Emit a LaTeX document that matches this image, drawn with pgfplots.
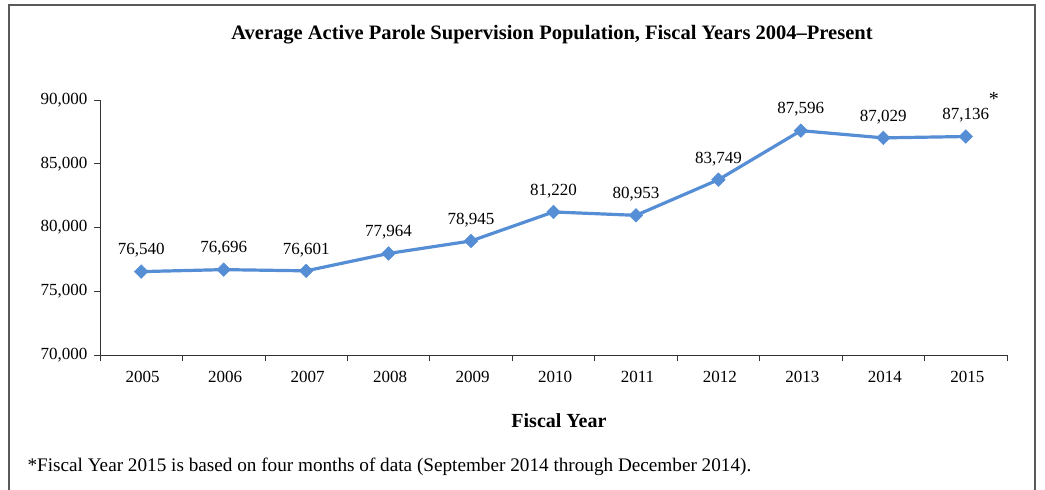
\documentclass[border=0pt]{standalone}
\usepackage{pgfplots}
\pgfplotsset{compat=1.18}
\usepackage{fontspec}
\setmainfont{Liberation Serif}
\definecolor{lineblue}{RGB}{85,142,213}
\begin{document}
\begin{tikzpicture}[x=1pt,y=1pt]
\path[use as bounding box] (0,0) rectangle (1045,490);
\draw[line width=1.2pt, black!65] (9,-5) -- (9,485) -- (1035,485) -- (1035,-5);
\node[font=\fontsize{20.5}{24}\selectfont\bfseries] at (552,455) {Average Active Parole Supervision Population, Fiscal Years 2004--Present};
\node[font=\fontsize{19.2}{23}\selectfont, anchor=west] at (24,23) {*Fiscal Year 2015 is based on four months of data (September 2014 through December 2014).};
\begin{axis}[at={(100pt,135pt)}, anchor=south west, width=907pt, height=255pt, scale only axis,
  xmin=-0.5, xmax=10.5, ymin=70000, ymax=90000,
  axis x line=bottom, axis y line=left,
  axis line style={-, line width=0.8pt, black!80},
  xtick={0,...,10},
  xticklabels={2005,2006,2007,2008,2009,2010,2011,2012,2013,2014,2015},
  major x tick style={draw=none},
  minor xtick={-0.5,0.5,1.5,2.5,3.5,4.5,5.5,6.5,7.5,8.5,9.5,10.5},
  minor x tick style={line width=0.8pt, black!80},
  minor tick length=6pt,
  ytick={70000,75000,80000,85000,90000},
  major y tick style={line width=0.8pt, black!80},
  tick align=outside, major tick length=6pt,
  tick label style={font=\fontsize{17}{20}\selectfont},
  /pgf/number format/assume math mode=true,
  /pgf/number format/1000 sep={,},
  scaled y ticks=false,
  yticklabel style={/pgf/number format/fixed, xshift=-3pt},
  xticklabel style={yshift=-7pt, xshift=1.5pt},
  clip=false,
  xlabel={\textbf{Fiscal Year}},
  xlabel style={at={(axis description cs:0.506,-0.259)}, anchor=center, font=\fontsize{20}{24}\selectfont},
  nodes near coords,
  nodes near coords style={anchor=center, yshift=21pt, font=\fontsize{17}{20}\selectfont, text=black},
  point meta=y,
]
\addplot[color=lineblue, line width=3.2pt, mark=square*, mark size=4.8pt,
  mark options={solid, fill=lineblue, line width=0.5pt, rotate=45}]
  coordinates {(0,76540) (1,76696) (2,76601) (3,77964) (4,78945) (5,81220)
    (6,80953) (7,83749) (8,87596) (9,87029) (10,87136)};
\node[font=\fontsize{20}{22}\selectfont] at (axis cs:10.34,90050) {*};
\end{axis}
\end{tikzpicture}
\end{document}
